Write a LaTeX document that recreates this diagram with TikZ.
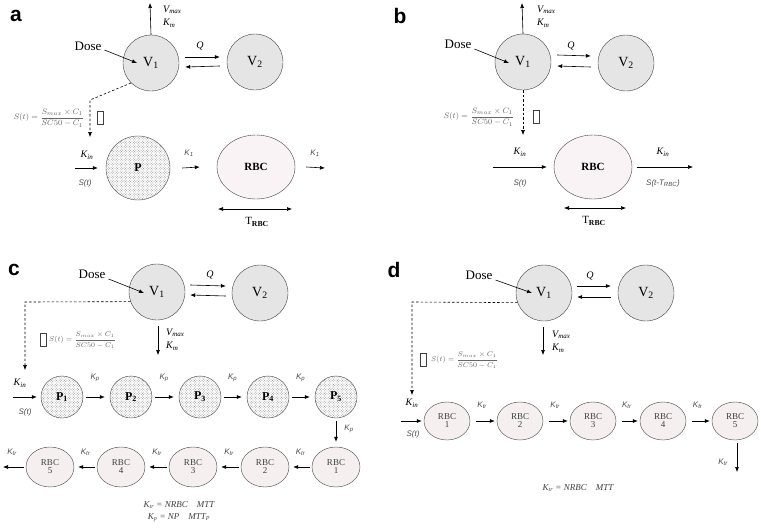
\documentclass[tikz,border=0pt]{standalone}
\usepackage{fontspec}
\setmainfont{Liberation Serif}
\setsansfont{Liberation Sans}
\usetikzlibrary{shapes.geometric,patterns,calc,arrows.meta}
\newcommand{\sformula}{$S(t)=\displaystyle\frac{S_{max}\times C_1}{SC50-C_1}$}
\pgfdeclarepatternformonly{finedots}{\pgfqpoint{-0.5pt}{-0.5pt}}{\pgfqpoint{2.5pt}{2.5pt}}{\pgfqpoint{2pt}{2pt}}{%
  \pgfpathcircle{\pgfqpoint{1pt}{1pt}}{0.42pt}\pgfusepath{fill}}
\pgfdeclarepatternformonly{finecross}{\pgfqpoint{-0.5pt}{-0.5pt}}{\pgfqpoint{3.1pt}{3.1pt}}{\pgfqpoint{2.6pt}{2.6pt}}{%
  \pgfpathcircle{\pgfqpoint{0.65pt}{0.65pt}}{0.45pt}\pgfpathcircle{\pgfqpoint{1.95pt}{1.95pt}}{0.45pt}\pgfusepath{fill}}
\definecolor{pinkdot}{RGB}{190,120,135}
\begin{document}
\begin{tikzpicture}[x=1pt,y=-1pt,
  arr/.style={-{Latex[length=5pt,width=4pt]}, line width=0.6pt},
  darr/.style={-{Latex[length=5pt,width=4pt]}, line width=0.6pt, dashed, dash pattern=on 2.5pt off 2pt},
  biarr/.style={{Latex[length=5pt,width=4pt]}-{Latex[length=5pt,width=4pt]}, line width=0.6pt},
  comp/.style={circle,draw=black!75,fill=gray!20,minimum size=56pt,inner sep=0pt,font=\fontsize{14}{14}\selectfont},
  pcirc/.style={circle,draw=black!75,fill=white,postaction={pattern=finecross,pattern color=black!45},inner sep=0pt,font=\fontsize{12}{12}\selectfont\bfseries},
  rbcA/.style={ellipse,draw=black!75,fill=white,postaction={pattern=finedots,pattern color=pinkdot},inner sep=0pt,minimum width=78pt,minimum height=64pt,font=\fontsize{11}{11}\selectfont\bfseries},
  rbcC/.style={ellipse,draw=black!75,fill=red!3,postaction={pattern=finedots,pattern color=black!40},inner sep=0pt,align=center,font=\fontsize{9}{9}\selectfont\color{black!75}},
  lab/.style={inner sep=0pt,font=\fontsize{10}{12}\selectfont\itshape},
  slab/.style={inner sep=0pt,font=\fontsize{8}{9}\selectfont\sffamily\itshape,text=black!70},
  form/.style={inner sep=0pt,text=black!60,font=\fontsize{8}{9}\selectfont},
  sform/.style={inner sep=0pt,text=black!60,font=\fontsize{7}{8}\selectfont},
  box/.style={draw=black!75,minimum width=6pt,minimum height=13pt,inner sep=0pt},
  dose/.style={inner sep=0pt,font=\fontsize{13}{13}\selectfont},
  plab/.style={inner sep=0pt,font=\fontsize{21}{21}\selectfont\sffamily\bfseries},
  eq/.style={inner sep=0pt,font=\fontsize{9}{10}\selectfont\itshape,text=black!75}
]
\useasboundingbox (0,0) rectangle (761,528);

% ---------------- panel a ----------------
\node[plab] (la) at (16,16) {a};
\node[comp] (a1) at (151,63) {V\textsubscript{1}};
\node[comp] (a2) at (255,62) {V\textsubscript{2}};
\draw[arr] ($(a1.east)+(6,-6)$) -- ($(a2.west)+(-7,-5)$);
\draw[arr] ($(a2.west)+(-7,4)$) -- ($(a1.east)+(6,4)$);
\node[lab] (aq) at (200,46) {Q};
\coordinate (atop) at (150,3);
\draw[arr] (a1.north) -- (atop);
\node[lab,anchor=west] (avm) at (163,10) {V\textsubscript{max}};
\node[lab,anchor=west] (akm) at (163,23) {K\textsubscript{m}};
\node[dose] (adose) at (88,46) {Dose};
\draw[arr] ($(adose.east)+(3,4)$) -- ($(a1.center)+(-14,0)$);
\coordinate (ad1) at (90,100);
\coordinate (ad2) at (90,137);
\draw[darr] (a1.225) -- (ad1) -- (ad2);
\node[form] (aform) at (49,118) {\sformula};
\node[box] (abox) at (100,118) {};
\node[pcirc,minimum size=64pt] (aP) at (138,168) {P};
\coordinate (ain) at (75,168);
\draw[arr] (ain) -- ($(aP.west)+(-8,0)$);
\node[lab] (akin) at (87,155) {K\textsubscript{in}};
\node[slab] (ast) at (85,183) {S(t)};
\node[rbcA] (aR) at (256,167) {RBC};
\draw[arr] ($(aP.east)+(12,0)$) -- ($(aR.west)+(-17,0)$);
\node[slab] (ak1) at (189,153) {K\textsubscript{1}};
\coordinate (aout) at (325,168);
\draw[arr] ($(aR.east)+(11,0)$) -- (aout);
\node[slab] (ak2) at (315,153) {K\textsubscript{1}};
\coordinate (at1) at (218,209);
\coordinate (at2) at (292,209);
\draw[biarr] (at1) -- (at2);
\node[inner sep=0pt,font=\fontsize{11}{11}\selectfont] (atr) at (257,222) {T\textsubscript{\textbf{RBC}}};

% ---------------- panel b ----------------
\node[plab] (lb) at (400,16) {b};
\node[comp] (b1) at (523,62) {V\textsubscript{1}};
\node[comp] (b2) at (626,63) {V\textsubscript{2}};
\draw[arr] ($(b1.east)+(6,-7)$) -- ($(b2.west)+(-7,-7)$);
\draw[arr] ($(b2.west)+(-7,4)$) -- ($(b1.east)+(6,4)$);
\node[lab] (bq) at (571,46) {Q};
\coordinate (btop) at (522,3);
\draw[arr] (b1.north) -- (btop);
\node[lab,anchor=west] (bvm) at (537,10) {V\textsubscript{max}};
\node[lab,anchor=west] (bkm) at (537,23) {K\textsubscript{m}};
\node[dose] (bdose) at (458,44) {Dose};
\draw[arr] ($(bdose.east)+(3,5)$) -- ($(b1.center)+(-14,1)$);
\coordinate (bd1) at (523,135);
\draw[darr] (b1.south) -- (bd1);
\node[form] (bform) at (479,117) {\sformula};
\node[box] (bbox) at (536,117) {};
\node[rbcA] (bR) at (593,167) {RBC};
\coordinate (bin) at (493,167);
\draw[arr] (bin) -- ($(bR.west)+(-7,0)$);
\node[lab] (bkin) at (520,152) {K\textsubscript{in}};
\node[slab] (bst) at (520,183) {S(t)};
\coordinate (bout) at (693,167);
\draw[arr] ($(bR.east)+(5,0)$) -- (bout);
\node[lab] (bkout) at (663,152) {K\textsubscript{in}};
\node[slab] (bst2) at (663,183) {S(t-T\textsubscript{RBC})};
\coordinate (bt1) at (564,208);
\coordinate (bt2) at (626,208);
\draw[biarr] (bt1) -- (bt2);
\node[inner sep=0pt,font=\fontsize{11}{11}\selectfont] (btr) at (594,221) {T\textsubscript{\textbf{RBC}}};

% ---------------- panel c ----------------
\node[plab] (lc) at (14,270) {c};
\node[comp] (c1) at (157,292) {V\textsubscript{1}};
\node[comp] (c2) at (260,293) {V\textsubscript{2}};
\draw[arr] ($(c1.east)+(5,-7)$) -- ($(c2.west)+(-6,-7)$);
\draw[arr] ($(c2.west)+(-6,3)$) -- ($(c1.east)+(5,3)$);
\node[lab] (cq) at (210,275) {Q};
\node[dose] (cdose) at (92,274) {Dose};
\draw[arr] ($(cdose.east)+(3,5)$) -- ($(c1.center)+(-13,1)$);
\coordinate (cvb) at (158,355);
\draw[arr] ($(c1.south)+(1,6)$) -- (cvb);
\node[lab,anchor=west] (cvm) at (166,333) {V\textsubscript{max}};
\node[lab,anchor=west] (ckm) at (166,346) {K\textsubscript{m}};
\coordinate (cd1) at (25,302);
\coordinate (cd2) at (25,370);
\draw[darr] (c1.200) -- (cd1) -- (cd2);
\node[box] (cbox) at (43,340) {};
\node[sform,anchor=west] (cform) at (49,340) {\sformula};
\node[lab] (ckin) at (20,383) {K\textsubscript{in}};
\node[slab] (cst) at (25,412) {S(t)};
\foreach \i/\x in {1/62,2/131,3/200,4/268,5/336}{
  \node[pcirc,minimum size=42pt] (cP\i) at (\x,397) {P\textsubscript{\i}};
}
\coordinate (cin) at (13,397);
\draw[arr] (cin) -- ($(cP1.west)+(-4,0)$);
\foreach \i/\j in {1/2,2/3,3/4,4/5}{
  \draw[arr] ($(cP\i.east)+(3,0)$) -- ($(cP\j.west)+(-5,0)$);
  \node[slab] at ($(cP\i.east)!0.45!(cP\j.west)+(0,-19)$) {K\textsubscript{p}};
}
\foreach \i/\x in {1/336,2/265,3/193,4/121,5/50}{
  \node[rbcC,minimum width=48pt,minimum height=40pt] (cR\i) at (\x,467) {RBC\\[-1pt]\i};
}
\draw[arr] ($(cP5.south)+(0,3)$) -- ($(cR1.north)+(0,-5)$);
\node[slab] (ckp) at (349,429) {K\textsubscript{p}};
\foreach \i/\j in {1/2,2/3,3/4,4/5}{
  \draw[arr] ($(cR\i.west)+(-2,0)$) -- ($(cR\j.east)+(4,0)$);
  \node[slab] at ($(cR\i.west)!0.5!(cR\j.east)+(0,-15)$) {K\textsubscript{tr}};
}
\coordinate (cout) at (3,467);
\draw[arr] ($(cR5.west)+(-2,0)$) -- (cout);
\node[slab] (cktr) at (12,452) {K\textsubscript{tr}};
\node[eq] (ceq1) at (179,505) {K\textsubscript{tr} = NRBC\quad MTT};
\node[eq] (ceq2) at (179,518) {K\textsubscript{p} = NP\quad MTT\textsubscript{P}};

% ---------------- panel d ----------------
\node[plab] (ld) at (394,270) {d};
\node[comp] (d1) at (544,293) {V\textsubscript{1}};
\node[comp] (d2) at (646,293) {V\textsubscript{2}};
\draw[arr] ($(d1.east)+(5,-7)$) -- ($(d2.west)+(-7,-7)$);
\draw[arr] ($(d2.west)+(-7,4)$) -- ($(d1.east)+(5,4)$);
\node[lab] (dq) at (590,276) {Q};
\node[dose] (ddose) at (479,275) {Dose};
\draw[arr] ($(ddose.east)+(3,5)$) -- ($(d1.center)+(-12,0)$);
\coordinate (dvb) at (543,355);
\draw[arr] ($(d1.south)+(-1,6)$) -- (dvb);
\node[lab,anchor=west] (dvm) at (552,335) {V\textsubscript{max}};
\node[lab,anchor=west] (dkm) at (552,348) {K\textsubscript{m}};
\coordinate (dd1) at (412,302);
\coordinate (dd2) at (412,395);
\draw[darr] (d1.200) -- (dd1) -- (dd2);
\node[box] (dbox) at (423,360) {};
\node[sform,anchor=west] (dform) at (431,360) {\sformula};
\node[lab] (dkin) at (412,403) {K\textsubscript{in}};
\node[slab] (dst) at (413,434) {S(t)};
\foreach \i/\x in {1/447,2/520,3/593,4/663,5/735}{
  \node[rbcC,minimum width=46pt,minimum height=38pt] (dR\i) at (\x,421) {RBC\\[-1pt]\i};
}
\coordinate (din) at (401,421);
\draw[arr] (din) -- ($(dR1.west)+(-2,0)$);
\foreach \i/\j in {1/2,2/3,3/4,4/5}{
  \draw[arr] ($(dR\i.east)+(6,0)$) -- ($(dR\j.west)+(-2,0)$);
  \node[slab] at ($(dR\i.east)!0.45!(dR\j.west)+(0,-16)$) {K\textsubscript{tr}};
}
\coordinate (ddown) at (737,472);
\draw[arr] ($(dR5.south)+(2,3)$) -- (ddown);
\node[slab] (dktr) at (723,462) {K\textsubscript{tr}};
\node[eq] (deq) at (578,488) {K\textsubscript{tr} = NRBC\quad MTT};
\end{tikzpicture}
\end{document}
